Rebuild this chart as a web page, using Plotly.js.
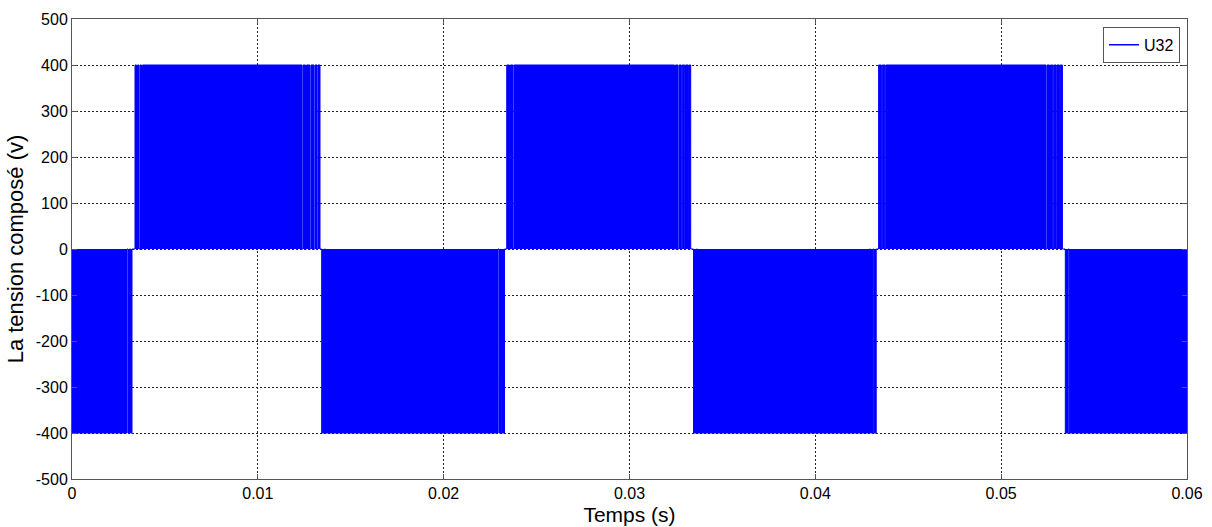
<!DOCTYPE html>
<html>
<head>
<meta charset="utf-8">
<script src="https://cdn.plot.ly/plotly-3.0.1.min.js"></script>
<style>html,body{margin:0;padding:0;background:#fff;}#chart{width:1212px;height:527px;}</style>
</head>
<body>
<div id="chart"></div>
<script>
// Pulse segments of U32 (time in s, level in V)
const pulseOn = [0, 0.003013, 0.003148, 0.003390, 0.003525, 0.003659, 0.003794, 0.012431, 0.012619, 0.012861, 0.013076, 0.013238,
  0.013437, 0.013642, 0.022978, 0.023139, 0.023393, 0.023597, 0.023785, 0.032476, 0.032664, 0.032836, 0.033014, 0.033186,
  0.033444, 0.033660, 0.042969, 0.043147, 0.043405, 0.043599, 0.043787, 0.052467, 0.052656, 0.052828, 0.053006, 0.053183,
  0.053452, 0.053662];
const pulseOff = [0.002960, 0.003094, 0.003229, 0.003471, 0.003605, 0.003740, 0.012377, 0.012565, 0.012807, 0.013023, 0.013184, 0.013346,
  0.013588, 0.022924, 0.023102, 0.023274, 0.023543, 0.023731, 0.032422, 0.032610, 0.032788, 0.032971, 0.033149, 0.033294,
  0.033606, 0.042916, 0.043104, 0.043276, 0.043551, 0.043739, 0.052414, 0.052602, 0.052780, 0.052963, 0.053145, 0.053296,
  0.053608, 0.06];
const pulseLevel = [-400, -400, -400, 400, 400, 400, 400, 400, 400, 400, 400, 400,
  -400, -400, -400, -400, 400, 400, 400, 400, 400, 400, 400, 400,
  -400, -400, -400, -400, 400, 400, 400, 400, 400, 400, 400, 400,
  -400, -400];
const seriesName = 'U32';
const xTickVals = [0, 0.01, 0.02, 0.03, 0.04, 0.05, 0.06];
const xTickText = ['0', '0.01', '0.02', '0.03', '0.04', '0.05', '0.06'];
const yTickVals = [-500, -400, -300, -200, -100, 0, 100, 200, 300, 400, 500];
const yTickText = ['-500', '-400', '-300', '-200', '-100', '0', '100', '200', '300', '400', '500'];

const xs = [], ys = [];
for (let i = 0; i < pulseOn.length; i++) {
  xs.push(pulseOn[i], pulseOn[i], pulseOff[i], pulseOff[i]);
  ys.push(0, pulseLevel[i], pulseLevel[i], 0);
}

const blue = 'rgb(0,0,255)';
const font = 'Arial, "Liberation Sans", sans-serif';
const data = [
  {x: xs, y: ys, type: 'scatter', mode: 'lines', line: {color: blue, width: 1}, fill: 'tozeroy', fillcolor: blue, showlegend: false, hoverinfo: 'skip'},
  {x: [null], y: [null], type: 'scatter', mode: 'lines', line: {color: blue, width: 1.5}, name: seriesName, showlegend: true}
];

const axisCommon = {
  showline: true, linecolor: '#555', linewidth: 1, mirror: 'ticks',
  ticks: 'inside', ticklen: 5, tickcolor: '#555', tickwidth: 1,
  showgrid: true, gridcolor: '#222', gridwidth: 1, griddash: '2px,2px',
  zeroline: false, tickfont: {family: font, size: 16, color: '#000'}
};

const layout = {
  width: 1212, height: 527,
  margin: {l: 72, r: 25, t: 19, b: 48},
  paper_bgcolor: '#fff', plot_bgcolor: '#fff',
  xaxis: Object.assign({}, axisCommon, {
    range: [0, 0.06], tickmode: 'array', tickvals: xTickVals, ticktext: xTickText,
    title: {text: 'Temps (s)', font: {family: font, size: 21, color: '#000'}, standoff: 6}
  }),
  yaxis: Object.assign({}, axisCommon, {
    range: [-500, 500], tickmode: 'array', tickvals: yTickVals, ticktext: yTickText,
    ticklabelstandoff: 0,
    title: {text: 'La tension composé (v)', font: {family: font, size: 22, color: '#000'}, standoff: 6}
  }),
  legend: {x: 0.9937, y: 0.983, xanchor: 'right', yanchor: 'top', bgcolor: '#fff', bordercolor: '#555', borderwidth: 1,
    font: {family: font, size: 16, color: '#000'}, itemwidth: 30, tracegroupgap: 0},
  showlegend: true
};

Plotly.newPlot('chart', data, layout, {displayModeBar: false, staticPlot: true});
</script>
</body>
</html>
